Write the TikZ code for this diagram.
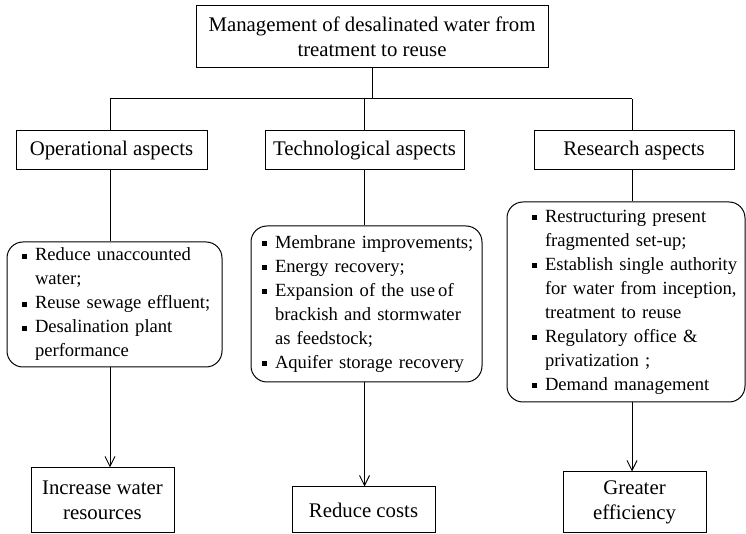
\documentclass[tikz,border=0pt]{standalone}
\usepackage{fontspec}
\setmainfont{Liberation Serif}
\usetikzlibrary{arrows.meta}
\newcommand{\sq}{\makebox[6.5pt][l]{\rule[1.2pt]{2.3pt}{2.3pt}}}
\newcommand{\itm}[1]{\mbox{\sq#1}}
\newcommand{\cnt}[1]{\mbox{\makebox[6.5pt]{}#1}}

\begin{document}
\begin{tikzpicture}[x=1pt,y=-1pt,
    box/.style={draw,line width=0.5pt,inner sep=0pt,align=center,font=\fontsize{10.4}{12.5}\selectfont},
    list/.style={draw,line width=0.5pt,rounded corners=8pt,inner ysep=0pt,align=left,font=\fontsize{9.3}{12}\selectfont},
    >={Straight Barb[length=5pt,width=5pt]},
    line width=0.5pt]
    \useasboundingbox (0,0) rectangle (373,267);
    % top and aspects
    \node[box,minimum width=176pt,minimum height=31pt] (mgmt) at (186,18.5) {Management of desalinated water from\\treatment to reuse};
    \node[box,minimum width=95.5pt,minimum height=19.5pt] (op) at (55.75,75.25) {Operational aspects};
    \node[box,minimum width=99.5pt,minimum height=19.5pt] (tech) at (182.25,75.25) {Technological aspects};
    \node[box,minimum width=100pt,minimum height=19.5pt] (res) at (317,75.25) {Research aspects};
    % lists
    \node[list,inner xsep=7.5pt,text width=92.5pt,minimum height=62.5pt] (opl) at (57.25,152.25) {\itm{Reduce unaccounted}\\\cnt{water;}\\\itm{Reuse sewage effluent;}\\\itm{Desalination plant}\\\cnt{performance}};
    \node[list,inner xsep=5.5pt,text width=104.5pt,minimum height=78pt] (techl) at (183.25,152) {\itm{Membrane improvements;}\\\itm{Energy recovery;}\\\itm{Expansion of the use\,of}\\\cnt{brackish and stormwater}\\\cnt{as feedstock;}\\\itm{Aquifer storage recovery}};
    \node[list,inner xsep=12.5pt,text width=94pt,minimum height=100pt] (resl) at (313,151) {\itm{Restructuring present}\\\cnt{fragmented set-up;}\\\itm{Establish single authority}\\\cnt{for water from inception,}\\\cnt{treatment to reuse}\\\itm{Regulatory office \&}\\\cnt{privatization ;}\\\itm{Demand management}};
    % outcomes
    \node[box,minimum width=71.5pt,minimum height=32.5pt] (inc) at (51.25,250.25) {Increase water\\resources};
    \node[box,minimum width=71.5pt,minimum height=23pt] (cost) at (181.75,255) {Reduce costs};
    \node[box,minimum width=71.5pt,minimum height=30.5pt] (eff) at (317.25,251.25) {Greater\\efficiency};
    \coordinate (h1) at (55,49.5);
    \coordinate (h3) at (316,49.5);
    \draw (h1) -- (h3);
    \draw (mgmt) -- (mgmt |- h1);
    \draw (h1) -- (h1 |- op.north);
    \draw (tech |- h1) -- (tech);
    \draw (h3) -- (h3 |- res.north);
    \draw (op.south -| h1) -- (opl.north -| h1);
    \draw (tech) -- (tech |- techl.north);
    \draw (res.south -| h3) -- (resl.north -| h3);
    \draw [->] (opl.south -| h1) -- (inc.north -| h1);
    \draw [->] (techl.south -| tech) -- (cost.north -| tech);
    \draw [->] (resl.south -| h3) -- (eff.north -| h3);
\end{tikzpicture}
\end{document}
